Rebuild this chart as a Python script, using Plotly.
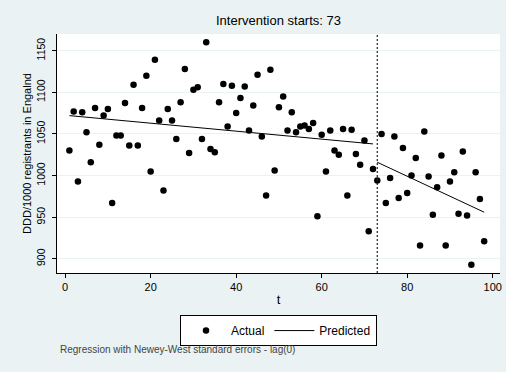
import plotly.graph_objects as go

# Actual observations (t = 1..98)
t_actual = list(range(1, 99))
ddd_actual = [
    1030, 1077, 993, 1076, 1052, 1016, 1081, 1037, 1072, 1080,
    967, 1048, 1048, 1087, 1036, 1109, 1036, 1081, 1120, 1005,
    1139, 1066, 982, 1080, 1066, 1044, 1088, 1128, 1027, 1103,
    1106, 1044, 1160, 1032, 1028, 1088, 1110, 1059, 1108, 1075,
    1093, 1107, 1054, 1084, 1121, 1047, 976, 1127, 1006, 1082,
    1095, 1054, 1076, 1052, 1059, 1060, 1056, 1063, 951, 1049,
    1005, 1054, 1030, 1025, 1056, 976, 1055, 1026, 1013, 1042,
    933, 1008, 994, 1050, 967, 997, 1047, 973, 1033, 979,
    1000, 1021, 916, 1053, 999, 953, 986, 1024, 916, 993,
    1004, 954, 1029, 952, 893, 1004, 972, 921,
]

# Predicted (segmented regression) line end points, pre and post intervention
t_pred = [1, 72, None, 73, 98]
ddd_pred = [1072, 1038, None, 1016, 956]

intervention = 73
x_ticks = [0, 20, 40, 60, 80, 100]
y_ticks = [900, 950, 1000, 1050, 1100, 1150]

FONT = "Liberation Sans, Arial, sans-serif"
BG = "#eaf2f3"

fig = go.Figure()
fig.add_trace(go.Scatter(
    x=t_actual, y=ddd_actual, mode="markers", name="Actual",
    marker=dict(color="black", size=6.5, symbol="circle"),
))
fig.add_trace(go.Scatter(
    x=t_pred, y=ddd_pred, mode="lines", name="Predicted",
    line=dict(color="black", width=1), connectgaps=False,
))

fig.add_shape(type="line", xref="x", yref="paper", x0=intervention, x1=intervention,
              y0=0, y1=1, line=dict(color="#222222", width=1.2, dash="2px,2px"))

fig.add_annotation(text="Regression with Newey-West standard errors - lag(0)",
                   xref="paper", yref="paper", x=0.002, y=-0.322,
                   xanchor="left", yanchor="middle", showarrow=False,
                   font=dict(size=10, color="#444444", family=FONT))

fig.update_layout(
    width=506, height=372,
    margin=dict(l=57, r=6, t=34, b=99),
    paper_bgcolor=BG, plot_bgcolor="white",
    font=dict(family=FONT, size=11, color="black"),
    title=dict(text="Intervention starts: 73", x=0.5, xref="paper", xanchor="center",
               y=1 - 20 / 372, yanchor="middle", font=dict(size=13, color="black")),
    showlegend=True,
    legend=dict(orientation="h", x=0.5, xanchor="center", y=-0.176, yanchor="top",
                bgcolor="white", bordercolor="black", borderwidth=1,
                font=dict(size=12), itemwidth=40),
    xaxis=dict(range=[-1.9, 101.7], tickvals=x_ticks, ticks="outside", ticklen=4,
               tickcolor="black", showline=True, linecolor="black", linewidth=1,
               showgrid=False, zeroline=False, automargin=False,
               title=dict(text="t", standoff=2), tickfont=dict(size=11)),
    yaxis=dict(range=[883, 1170], tickvals=y_ticks, ticks="outside", ticklen=4,
               tickcolor="black", showline=True, linecolor="black", linewidth=1,
               showgrid=True, gridcolor=BG, gridwidth=1, zeroline=False,
               automargin=False, tickangle=-90, tickfont=dict(size=10.5),
               ticklabelstandoff=3,
               title=dict(text="DDD/1000 registrants in Engalnd", standoff=0,
                          font=dict(size=11))),
)

fig.write_html("out.html", config={"displayModeBar": False},
               post_script="document.body.style.margin='0px';document.body.style.background='%s';" % BG)
